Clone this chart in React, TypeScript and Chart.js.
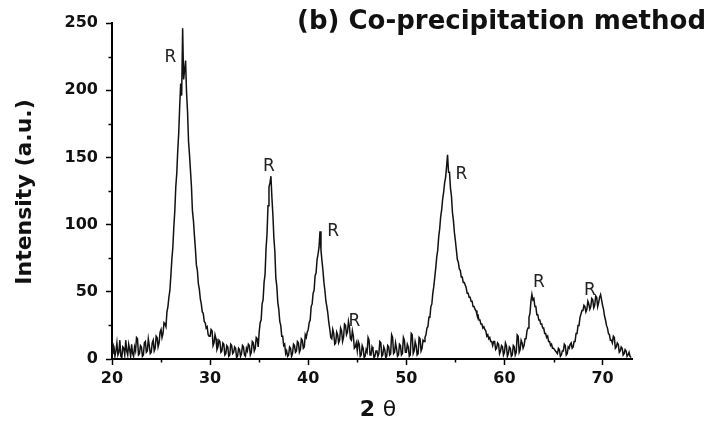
import React, { useEffect, useRef } from "react";
import { Chart, registerables } from "chart.js";

Chart.register(...registerables);

// 2θ sampling grid of the scan (degrees)
const THETA_START = 20;
const THETA_STEP = 0.1;

// Intensity, one value per 0.1° from 20.0° to 72.9°
const intensity = [
  4, 11, 9, 2, 6, 12, 3, 5, 14, 2, // 20
  1, 9, 8, 3, 14, 6, 3, 11, 7, 2, // 21
  11, 4, 2, 9, 6, 16, 15, 3, 4, 10, // 22
  9, 2, 3, 12, 13, 5, 6, 15, 10, 4, // 23
  5, 12, 14, 6, 8, 17, 16, 9, 12, 20, // 24
  22, 16, 19, 27, 26, 24, 35, 39, 46, 51, // 25
  62, 74, 83, 98, 110, 128, 138, 155, 168, 188, // 26
  205, 196, 246, 208, 215, 222, 198, 184, 162, 152, // 27
  140, 128, 110, 103, 92, 82, 70, 66, 56, 52, // 28
  45, 41, 35, 34, 28, 27, 23, 24, 18, 17, // 29
  17, 22, 21, 10, 12, 18, 15, 7, 9, 14, // 30
  13, 5, 6, 12, 11, 3, 4, 10, 9, 2, // 31
  3, 11, 10, 4, 5, 9, 8, 1, 2, 8, // 32
  7, 2, 4, 10, 9, 3, 2, 8, 6, 11, // 33
  10, 3, 5, 13, 12, 6, 8, 16, 15, 9, // 34
  20, 27, 29, 41, 44, 57, 63, 82, 93, 114, // 35
  128, 131, 136, 120, 107, 90, 80, 60, 54, 42, // 36
  37, 28, 25, 17, 17, 10, 11, 4, 6, 2, // 37
  3, 9, 8, 2, 4, 11, 10, 5, 6, 13, // 38
  12, 5, 7, 15, 14, 8, 9, 18, 16, 20, // 39
  22, 27, 29, 39, 41, 49, 51, 62, 64, 74, // 40
  78, 83, 95, 81, 73, 66, 57, 51, 43, 39, // 41
  34, 27, 22, 16, 15, 22, 19, 11, 12, 20, // 42
  18, 12, 14, 23, 21, 13, 16, 26, 25, 18, // 43
  20, 28, 24, 15, 14, 21, 17, 8, 9, 12, // 44
  6, 13, 11, 2, 3, 10, 8, 1, 2, 7, // 45
  5, 16, 14, 3, 3, 9, 7, 1, 2, 6, // 46
  6, 2, 4, 13, 12, 2, 3, 9, 7, 1, // 47
  2, 10, 9, 3, 4, 18, 16, 4, 5, 12, // 48
  8, 2, 3, 11, 10, 3, 4, 16, 14, 5, // 49
  5, 11, 9, 2, 3, 19, 18, 4, 6, 13, // 50
  10, 3, 4, 16, 15, 6, 8, 14, 13, 16, // 51
  18, 23, 24, 31, 31, 39, 41, 49, 54, 61, // 52
  68, 76, 81, 91, 97, 106, 111, 119, 124, 131, // 53
  135, 143, 152, 139, 139, 127, 121, 109, 103, 94, // 54
  88, 81, 74, 72, 67, 66, 61, 61, 57, 57, // 55
  55, 53, 49, 49, 46, 46, 43, 43, 39, 39, // 56
  37, 36, 33, 33, 29, 29, 26, 26, 23, 24, // 57
  22, 21, 17, 18, 15, 16, 13, 13, 10, 13, // 58
  13, 7, 8, 12, 11, 4, 6, 10, 9, 3, // 59
  5, 12, 10, 2, 4, 9, 8, 2, 3, 10, // 60
  9, 3, 5, 18, 17, 5, 7, 14, 12, 8, // 61
  10, 15, 15, 21, 23, 31, 34, 43, 48, 44, // 62
  45, 39, 39, 33, 33, 29, 29, 26, 26, 23, // 63
  23, 19, 19, 16, 17, 13, 13, 10, 11, 8, // 64
  8, 7, 6, 5, 4, 8, 7, 2, 3, 6, // 65
  6, 11, 10, 3, 4, 9, 8, 11, 12, 8, // 66
  9, 13, 13, 19, 19, 25, 25, 31, 31, 36, // 67
  36, 40, 39, 35, 37, 43, 41, 37, 39, 45, // 68
  44, 38, 40, 47, 46, 39, 42, 46, 48, 44, // 69
  40, 37, 32, 29, 25, 23, 19, 18, 14, 14, // 70
  12, 17, 16, 8, 9, 12, 11, 5, 6, 9, // 71
  8, 3, 4, 7, 6, 2, 3, 5, 2, 1, // 72
];

const xMajorTicks = [20, 30, 40, 50, 60, 70];
const xMinorTicks = [25, 35, 45, 55, 65];
const yMajorTicks = [0, 50, 100, 150, 200, 250];
const yMinorTicks = [25, 75, 125, 175, 225];

// Peak marker labels "R" (2θ, intensity of the label centre)
const peakLabelText = ["R", "R", "R", "R", "R", "R", "R"];
const peakLabelX = [25.95, 36.0, 42.55, 44.7, 55.6, 63.5, 68.7];
const peakLabelY = [224, 143, 95, 28, 137, 57, 51];

const chartTitle = "(b) Co-precipitation method";
const yAxisTitle = "Intensity (a.u.)";
const xAxisTitleMain = "2";
const xAxisTitleSymbol = "θ";

const FONT = '"DejaVu Sans", "Liberation Sans", Arial, sans-serif';

const textPlugin = {
  id: "textPlugin",
  afterDraw(chart: any) {
    const ctx = chart.ctx as CanvasRenderingContext2D;
    const xs = chart.scales.x;
    const ys = chart.scales.y;
    const area = chart.chartArea;
    ctx.save();
    // minor ticks
    ctx.strokeStyle = "#000";
    ctx.lineWidth = 1.5;
    ctx.beginPath();
    xMinorTicks.forEach((v) => {
      const px = Math.round(xs.getPixelForValue(v)) + 0.5;
      ctx.moveTo(px, area.bottom);
      ctx.lineTo(px, area.bottom + 3.5);
    });
    yMinorTicks.forEach((v) => {
      const py = Math.round(ys.getPixelForValue(v)) + 0.5;
      ctx.moveTo(area.left - 3.5, py);
      ctx.lineTo(area.left, py);
    });
    ctx.stroke();

    // title
    ctx.fillStyle = "#111";
    ctx.font = `bold 26px ${FONT}`;
    ctx.textAlign = "right";
    ctx.textBaseline = "middle";
    ctx.fillText(chartTitle, 706, 22);

    // y axis title
    ctx.save();
    ctx.translate(25, 192);
    ctx.rotate(-Math.PI / 2);
    ctx.font = `bold 22px ${FONT}`;
    ctx.textAlign = "center";
    ctx.textBaseline = "middle";
    ctx.fillText(yAxisTitle, 0, 0);
    ctx.restore();

    // x axis title
    ctx.textBaseline = "middle";
    ctx.textAlign = "left";
    ctx.font = `bold 22px ${FONT}`;
    const w1 = ctx.measureText(xAxisTitleMain + " ").width;
    ctx.font = `22px ${FONT}`;
    const w2 = ctx.measureText(xAxisTitleSymbol).width;
    const startX = 378 - (w1 + w2) / 2;
    ctx.font = `bold 22px ${FONT}`;
    ctx.fillText(xAxisTitleMain, startX, 410);
    ctx.font = `22px ${FONT}`;
    ctx.fillText(xAxisTitleSymbol, startX + w1, 410);

    // peak labels
    ctx.font = `17px ${FONT}`;
    ctx.textAlign = "center";
    ctx.textBaseline = "middle";
    ctx.fillStyle = "#222";
    peakLabelText.forEach((t, i) => {
      ctx.fillText(t, xs.getPixelForValue(peakLabelX[i]), ys.getPixelForValue(peakLabelY[i]));
    });
    ctx.restore();
  },
};

export default function App() {
  const ref = useRef<HTMLCanvasElement | null>(null);

  useEffect(() => {
    if (!ref.current) return;
    const points = intensity.map((v, i) => ({ x: THETA_START + i * THETA_STEP, y: v }));
    const tickFont = { family: FONT, size: 16, weight: "bold" as const };
    const chart = new Chart(ref.current, {
      type: "line",
      data: {
        datasets: [
          {
            data: points,
            borderColor: "#111",
            borderWidth: 1.5,
            pointRadius: 0,
            tension: 0,
            fill: false,
          },
        ],
      },
      options: {
        animation: false,
        responsive: false,
        events: [],
        layout: { padding: { left: 0, right: 84, top: 23, bottom: 0 } },
        plugins: { legend: { display: false }, tooltip: { enabled: false }, title: { display: false } },
        scales: {
          x: {
            type: "linear",
            min: 20,
            max: 73,
            afterBuildTicks: (s: any) => {
              s.ticks = xMajorTicks.map((v) => ({ value: v }));
            },
            afterFit: (s: any) => {
              s.height = 69;
            },
            grid: { drawOnChartArea: false, drawTicks: true, tickLength: 6, tickColor: "#000", tickWidth: 1.5 },
            border: { display: true, color: "#000", width: 2 },
            ticks: { font: tickFont, color: "#111", padding: 4, maxRotation: 0, autoSkip: false },
          },
          y: {
            type: "linear",
            min: 0,
            max: 250,
            afterBuildTicks: (s: any) => {
              s.ticks = yMajorTicks.map((v) => ({ value: v }));
            },
            afterFit: (s: any) => {
              s.width = 112;
            },
            grid: { drawOnChartArea: false, drawTicks: true, tickLength: 6, tickColor: "#000", tickWidth: 1.5 },
            border: { display: true, color: "#000", width: 2 },
            ticks: { font: tickFont, color: "#111", padding: 8, autoSkip: false },
          },
        },
      },
      plugins: [textPlugin],
    });
    return () => chart.destroy();
  }, []);

  return (
    <div style={{ position: "absolute", left: 0, top: 0, width: 716, height: 428, background: "#fff" }}>
      <canvas ref={ref} width={716} height={428} style={{ width: 716, height: 428, display: "block" }} />
    </div>
  );
}
